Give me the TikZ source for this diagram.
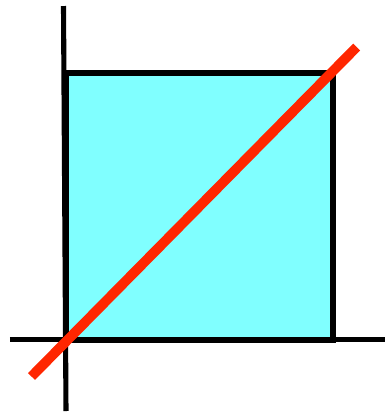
\documentclass[tikz,border=0pt]{standalone}
\usepackage{tikz}
\definecolor{Cyan}{HTML}{80FFFF}
\definecolor{Red}{HTML}{FF2600}

\begin{document}
\begin{tikzpicture}[
  x=0.02cm,y=-0.02cm,
  axis/.style={line width=2.9pt,black},
  box/.style={line width=2.9pt,draw=black,fill=Cyan},
  diag/.style={line width=5.6pt,Red}
]
  \path[use as bounding box] (0,0) rectangle (385,414);

  \draw[box] (66,73) rectangle (333,340);

  \draw[axis] (63.5,6) -- (66,411);
  \draw[axis] (10,339.8) -- (385,339.8);

  \draw[diag] (31.5,376.5) -- (356.7,47);
\end{tikzpicture}
\end{document}
